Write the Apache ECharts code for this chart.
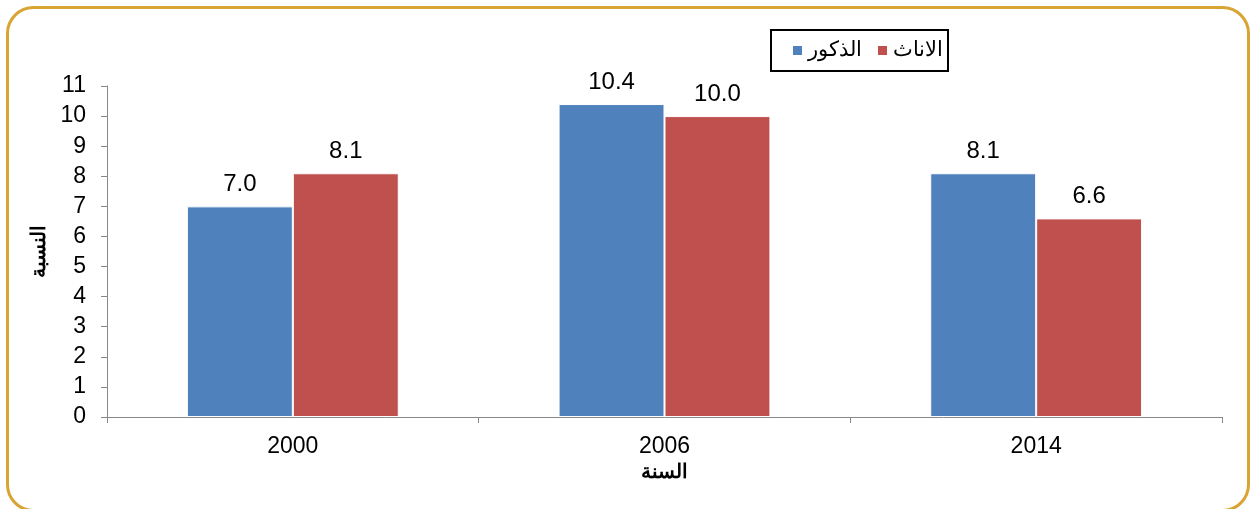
<!DOCTYPE html>
<html><head><meta charset="utf-8">
<script src="https://cdn.jsdelivr.net/npm/echarts@6/dist/echarts.min.js"></script>
<style>html,body{margin:0;padding:0;background:#fff}#c{width:1250px;height:509px}</style>
</head><body><div id="c"></div>
<script>
const categories = ['2000', '2006', '2014'];
const males = [7.0, 10.4, 8.1];
const females = [8.1, 10.0, 6.6];
const seriesNames = ['الذكور', 'الاناث'];
const yTitle = 'النسبة';
const xTitle = 'السنة';

const chart = echarts.init(document.getElementById('c'));
const font = 'Liberation Sans';
const lbl = {show: true, position: 'top', distance: 10, color: '#000', fontSize: 24, fontFamily: font,
  formatter: p => p.value.toFixed(1)};
chart.setOption({
  animation: false,
  graphic: [{type: 'rect', left: 5, top: 5, shape: {width: 1241, height: 503, r: 26},
    style: {fill: 'none', stroke: '#D8A434', lineWidth: 3}, z: -1}],
  legend: {
    data: seriesNames, left: 771, top: 30, icon: 'rect', itemWidth: 11, itemHeight: 11, itemGap: 14,
    padding: [10, 5, 10, 20], borderColor: '#000', borderWidth: 2, backgroundColor: '#fff',
    textStyle: {fontSize: 21, color: '#000', fontFamily: font}
  },
  grid: {left: 107, right: 28, top: 86, bottom: 92, containLabel: false},
  xAxis: {
    type: 'category', data: categories, name: xTitle, nameLocation: 'middle', nameGap: 42,
    nameTextStyle: {fontSize: 20, fontWeight: 'bold', color: '#000', fontFamily: font},
    axisLine: {lineStyle: {color: '#888', width: 1}},
    axisTick: {show: true, length: 6, lineStyle: {color: '#888'}},
    axisLabel: {fontSize: 23, color: '#000', margin: 18, fontFamily: font}
  },
  yAxis: {
    type: 'value', min: 0, max: 11, interval: 1, name: yTitle, nameLocation: 'middle', nameGap: 57,
    nameRotate: 90,
    nameTextStyle: {fontSize: 20, fontWeight: 'bold', color: '#000', fontFamily: font},
    splitLine: {show: false},
    axisLine: {show: true, lineStyle: {color: '#888', width: 1}},
    axisTick: {show: true, length: 6, lineStyle: {color: '#888'}},
    axisLabel: {fontSize: 23, color: '#000', margin: 21, fontFamily: font}
  },
  series: [
    {name: seriesNames[0], type: 'bar', data: males, barGap: '0%', barCategoryGap: '43%',
      itemStyle: {color: '#4F81BD', borderColor: '#fff', borderWidth: 1}, label: lbl},
    {name: seriesNames[1], type: 'bar', data: females, barGap: '0%', barCategoryGap: '43%',
      itemStyle: {color: '#C0504D', borderColor: '#fff', borderWidth: 1}, label: lbl}
  ]
});
</script></body></html>
